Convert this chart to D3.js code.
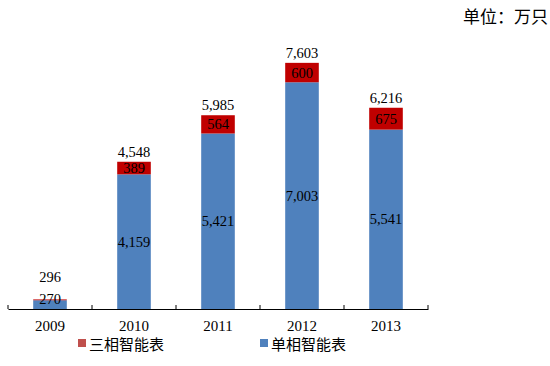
<!DOCTYPE html>
<html><head><meta charset="utf-8">
<script src="https://cdn.jsdelivr.net/npm/d3@7"></script>
<style>body{margin:0;background:#fff}svg{display:block}</style>
</head><body>
<svg id="c" width="550" height="366"></svg>
<script>
const years = ["2009","2010","2011","2012","2013"];
const singlePhase = [270, 4159, 5421, 7003, 5541];
const threePhase = [26, 389, 564, 600, 675];
const totals = [296, 4548, 5985, 7603, 6216];
const seriesNames = ["三相智能表", "单相智能表"];
const unitLabel = "单位：万只";

const svg = d3.select("#c");
const serif = "'Liberation Serif','Times New Roman','Noto Sans CJK SC',serif";
const cjk = "'Noto Sans CJK SC','Liberation Serif',serif";
const x = d3.scaleBand().domain(years).range([8, 428]).paddingInner(0.6).paddingOuter(0.3);
const y = d3.scaleLinear().domain([0, 8000]).range([309, 50]);
const blue = "#4F81BD", red = "#C00000";
const fmt = d3.format(",");

const data = years.map((yr, i) => ({yr, s: singlePhase[i], t: threePhase[i], tot: totals[i]}));

// bars
svg.selectAll("rect.s").data(data).enter().append("rect")
  .attr("x", d => x(d.yr)).attr("width", x.bandwidth())
  .attr("y", d => y(d.s)).attr("height", d => y(0) - y(d.s)).attr("fill", blue);
svg.selectAll("rect.t").data(data).enter().append("rect")
  .attr("x", d => x(d.yr)).attr("width", x.bandwidth())
  .attr("y", d => y(d.s + d.t)).attr("height", d => y(d.s) - y(d.s + d.t)).attr("fill", red);

// axis
const axis = d3.axisBottom(x).tickSize(0).tickPadding(11);
const g = svg.append("g").attr("transform", "translate(0,309)").call(axis);
g.select(".domain").attr("stroke", "#000").attr("stroke-width", 1.2);
g.selectAll(".tick text").attr("font-family", serif).attr("font-size", 15).attr("fill", "#000");
const step = x.step();
const bounds = d3.range(years.length + 1).map(i => 8 + i * step);
g.selectAll("line.tk").data(bounds).enter().append("line")
  .attr("x1", d => d).attr("x2", d => d).attr("y1", -4).attr("y2", 0)
  .attr("stroke", "#000");

// labels
const cx = d => x(d.yr) + x.bandwidth() / 2;
svg.selectAll("text.tot").data(data).enter().append("text")
  .attr("x", cx).attr("y", d => Math.min(y(d.tot) - 5, y(0) - 27)).attr("text-anchor", "middle")
  .attr("font-family", serif).attr("font-size", 14.5).text(d => fmt(d.tot));
svg.selectAll("text.tv").data(data.filter(d => d.t > 100)).enter().append("text")
  .attr("x", cx).attr("y", d => (y(d.s) + y(d.s + d.t)) / 2 + 5).attr("text-anchor", "middle")
  .attr("font-family", serif).attr("font-size", 14.5).text(d => fmt(d.t));
svg.selectAll("text.sv").data(data).enter().append("text")
  .attr("x", cx).attr("y", d => d.s < 1000 ? y(0) - 5 : (y(d.s) + y(0)) / 2 + 5).attr("text-anchor", "middle")
  .attr("font-family", serif).attr("font-size", 14.5).text(d => fmt(d.s));

// legend
const legend = [{n: seriesNames[0], c: "#C0504D", x: 78}, {n: seriesNames[1], c: blue, x: 260}];
const lg = svg.selectAll("g.lg").data(legend).enter().append("g")
  .attr("transform", d => `translate(${d.x},343)`);
lg.append("rect").attr("x", 0).attr("y", -4).attr("width", 8).attr("height", 8).attr("fill", d => d.c);
lg.append("text").attr("x", 11).attr("y", 7).attr("font-family", cjk).attr("font-size", 15).text(d => d.n);

svg.append("text").attr("x", 548).attr("y", 23).attr("text-anchor", "end")
  .attr("font-family", cjk).attr("font-size", 17).text(unitLabel);
</script>
</body></html>
